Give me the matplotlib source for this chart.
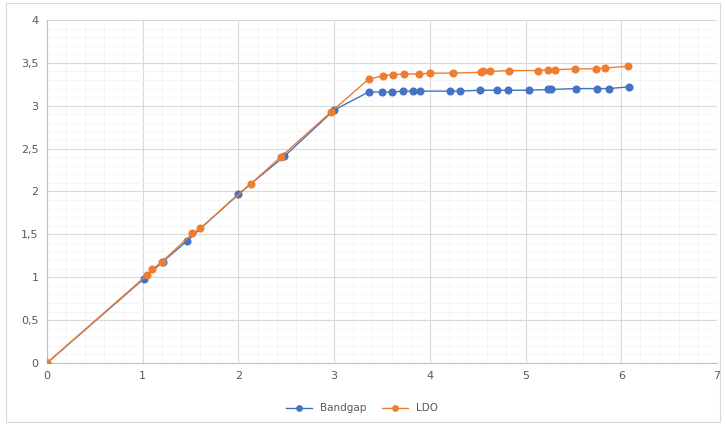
import numpy as np
import matplotlib
matplotlib.use("Agg")
import matplotlib.pyplot as plt
from matplotlib.ticker import MultipleLocator, FuncFormatter
from matplotlib.patches import Rectangle

# data
bandgap_x = [0, 1.01, 1.21, 1.46, 2.0, 2.48, 3.0, 3.36, 3.5, 3.6, 3.72, 3.82, 3.9,
             4.21, 4.31, 4.52, 4.70, 4.82, 5.04, 5.23, 5.27, 5.53, 5.75, 5.87, 6.08]
bandgap_y = [0, 0.98, 1.18, 1.42, 1.97, 2.41, 2.95, 3.16, 3.16, 3.16, 3.17, 3.17, 3.17,
             3.17, 3.17, 3.18, 3.18, 3.18, 3.18, 3.19, 3.19, 3.20, 3.20, 3.20, 3.22]
ldo_x = [0, 1.05, 1.1, 1.2, 1.52, 1.6, 2.13, 2.44, 2.97, 3.36, 3.51, 3.61, 3.73, 3.89,
         4.0, 4.24, 4.53, 4.56, 4.63, 4.83, 5.13, 5.23, 5.31, 5.52, 5.74, 5.83, 6.07]
ldo_y = [0, 1.03, 1.09, 1.18, 1.51, 1.57, 2.09, 2.40, 2.93, 3.31, 3.35, 3.36, 3.37, 3.37,
         3.38, 3.38, 3.39, 3.40, 3.40, 3.41, 3.41, 3.42, 3.42, 3.43, 3.43, 3.44, 3.46]

fig = plt.figure(figsize=(7.26, 4.25), dpi=100)
fig.patches.append(Rectangle((0.008, 0.008), 0.984, 0.984, transform=fig.transFigure,
                             fill=False, edgecolor="#d9d9d9", linewidth=0.8))
ax = fig.add_axes([0.0647, 0.146, 0.923, 0.807])

ax.plot(bandgap_x, bandgap_y, color="#4472C4", marker="o", markersize=4.8, linewidth=1.0,
        label="Bandgap", zorder=3)
ax.plot(ldo_x, ldo_y, color="#ED7D31", marker="o", markersize=4.8, linewidth=1.0,
        label="LDO", zorder=3)

ax.set_xlim(0, 7)
ax.set_ylim(0, 4)
ax.xaxis.set_major_locator(MultipleLocator(1))
ax.yaxis.set_major_locator(MultipleLocator(0.5))
ax.xaxis.set_minor_locator(MultipleLocator(0.2))
ax.yaxis.set_minor_locator(MultipleLocator(0.1))
fmt = FuncFormatter(lambda v, p: ("%g" % v).replace(".", ","))
ax.xaxis.set_major_formatter(fmt)
ax.yaxis.set_major_formatter(fmt)

ax.grid(which="major", color="#d9d9d9", linewidth=0.8)
ax.grid(which="minor", color="#f4f4f4", linewidth=0.6)
ax.set_axisbelow(True)
for side in ["top", "right"]:
    ax.spines[side].set_visible(False)
for side in ["left", "bottom"]:
    ax.spines[side].set_color("#bfbfbf")
ax.tick_params(which="both", length=0, colors="#595959", labelsize=8, pad=6)

ax.legend(loc="upper center", bbox_to_anchor=(0.47, -0.09), ncol=2, frameon=False,
          fontsize=7.5, labelcolor="#595959", handlelength=2.5, columnspacing=1.5,
          markerscale=0.8)

fig.savefig("out.png", dpi=100)
